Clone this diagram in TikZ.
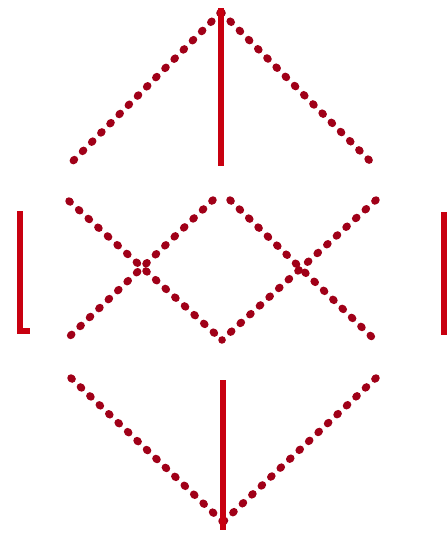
\documentclass[tikz,border=0pt]{standalone}
\usetikzlibrary{calc}
\definecolor{solidred}{RGB}{200,0,16}
\definecolor{dotred}{RGB}{160,0,24}
\tikzset{
  dotline/.style={draw=dotred, line width=7.5pt, line cap=round, dash pattern=on 1.5pt off 11.5pt},
  solidline/.style={draw=solidred, line width=6.5pt},
}
\begin{document}
\begin{tikzpicture}[x=1pt,y=-1pt]
\useasboundingbox[fill=white] (0,0) rectangle (447,536);
% coordinates
\coordinate (top) at (221,12);
\coordinate (tl) at (69,165);
\coordinate (tc) at (221,166);
\coordinate (tr) at (374,165);
\coordinate (ma) at (69,201);
\coordinate (mb) at (213,200);
\coordinate (mc) at (230,200);
\coordinate (md) at (376,200);
\coordinate (mlow) at (222,340);
\coordinate (ml) at (69,337);
\coordinate (mr) at (376,341);
\coordinate (bl) at (71,378);
\coordinate (bc) at (223,380);
\coordinate (br) at (376,378);
\coordinate (bot) at (223,522);
\coordinate (botend) at (223,530);
\coordinate (lbartop) at (20,211);
\coordinate (lbarbot) at (20,331);
\coordinate (lfoot) at (30,331);
\coordinate (rbartop) at (444,212);
\coordinate (rbarbot) at (444,335);
% top part
\draw[dotline] (top) -- (tl);
\draw[dotline] (top) -- (tr);
\draw[solidline] ($(top)+(0,-4)$) -- (tc);
% middle crosses
\draw[dotline] (ma) -- (mlow);
\draw[dotline] (mb) -- (ml);
\draw[dotline] (mc) -- (mr);
\draw[dotline] (md) -- (mlow);
% bottom part
\draw[dotline] (bl) -- (bot);
\draw[dotline] (br) -- (bot);
\draw[solidline] (bc) -- (botend);
% side bars
\draw[solidline] (lbartop) -- (lbarbot) -- (lfoot);
\draw[solidline] (rbartop) -- (rbarbot);
\end{tikzpicture}
\end{document}
